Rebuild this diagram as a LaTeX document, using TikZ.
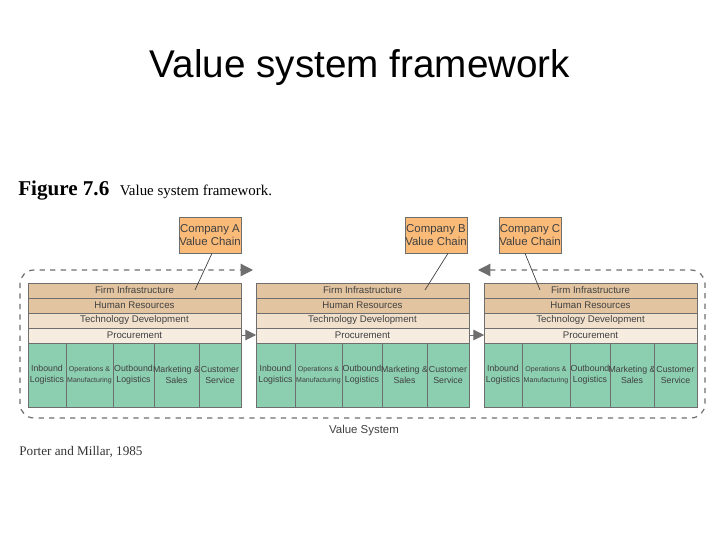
\documentclass[tikz,border=0pt]{standalone}
\usepackage{fontspec}
\setmainfont{Liberation Sans}
\newfontfamily\capfont{Liberation Serif}
\definecolor{vstan}{RGB}{226,196,160}
\definecolor{vslight}{RGB}{240,224,204}
\definecolor{vspale}{RGB}{246,236,224}
\definecolor{vsgreen}{RGB}{140,206,176}
\definecolor{vsorange}{RGB}{250,186,120}
\definecolor{vsline}{RGB}{110,110,110}
\usetikzlibrary{calc}
\usetikzlibrary{positioning}
\usetikzlibrary{arrows.meta}
\tikzset{
  row/.style={draw=vsline,line width=0.5pt,inner sep=0pt,font=\fontsize{5.5}{6}\selectfont,text=black!75},
  prim/.style={draw=vsline,line width=0.5pt,inner sep=0pt,fill=vsgreen,font=\fontsize{5}{6}\selectfont,text=black!75,align=center},
  company/.style={draw=vsline,fill=vsorange,font=\fontsize{6.5}{7.5}\selectfont,text=black!75,align=center,inner sep=0pt,minimum width=1.24cm,minimum height=0.72cm},
}
\begin{document}
\begin{tikzpicture}[x=0.02cm,y=-0.02cm]
  \useasboundingbox (0,0) rectangle (720,540);

  \node at (360,68) {\fontsize{22}{24}\selectfont Value system framework};
  \node [anchor=base west,inner sep=0pt] (fig) at (18,196) {\capfont\fontsize{12}{14}\selectfont\textbf{Figure 7.6}\ \ \fontsize{8.5}{10}\selectfont Value system framework.};

  % three value chains
  \foreach \n/\x/\a/\b/\c/\d in {1/28/66/113/154/199, 2/256/295/342/382/427, 3/484/522/570/610/654}{
    \pgfmathsetmacro{\r}{\x+213}
    \draw [row,fill=vstan] (\x,283) rectangle node (firm\n) {Firm Infrastructure} (\r,298);
    \draw [row,fill=vstan] (\x,298) rectangle node {Human Resources} (\r,313);
    \draw [row,fill=vslight] (\x,313) rectangle node {Technology Development} (\r,328);
    \draw [row,fill=vspale] (\x,328) rectangle node (proc\n) {Procurement} (\r,343);
    \coordinate (left\n) at (\x,335);
    \coordinate (right\n) at (\r,335);
    \draw [prim] (\x,343) rectangle node {Inbound\\Logistics} (\a,407);
    \draw [prim] (\a,343) rectangle node {\fontsize{4}{5}\selectfont Operations \&\\\fontsize{4}{5}\selectfont Manufacturing} (\b,407);
    \draw [prim] (\b,343) rectangle node {Outbound\\Logistics} (\c,407);
    \draw [prim] (\c,343) rectangle node {Marketing \&\\Sales} (\d,407);
    \draw [prim] (\d,343) rectangle node {Customer\\Service} (\r,407);
  }

  \draw [-{Triangle[length=6pt,width=6pt]},vsline] (right1) -- (left2);
  \draw [-{Triangle[length=6pt,width=6pt]},vsline] (right2) -- (left3);

  % company labels
  \node [company] (compA) at (210,235) {Company A\\Value Chain};
  \node [company] (compB) at (436,235) {Company B\\Value Chain};
  \node [company] (compC) at (530,235) {Company C\\Value Chain};
  \coordinate (tipA) at (195,290);
  \coordinate (tipB) at (425,290);
  \coordinate (tipC) at (540,290);
  \draw [vsline!60!black] ($(compA.south)+(2,0)$) -- (tipA);
  \draw [vsline!60!black] ($(compB.south)+(12,0)$) -- (tipB);
  \draw [vsline!60!black] ($(compC.south)+(-5,0)$) -- (tipC);

  % value system loop
  \draw [{Triangle[length=7pt,width=7pt]}-{Triangle[length=7pt,width=7pt]},dashed,vsline,line width=0.7pt,rounded corners=8pt]
    (478,270) -- (705,270) -- (705,418) -- (20,418) -- (20,270) -- (253,270);
  \node [font=\fontsize{6.5}{7.5}\selectfont,text=black!75] (vsys) at (364,431) {Value System};
  \node [anchor=west,inner sep=0pt,font=\capfont\fontsize{7.5}{9}\selectfont,text=black!80] (src) at (19,452) {Porter and Millar, 1985};
\end{tikzpicture}
\end{document}
